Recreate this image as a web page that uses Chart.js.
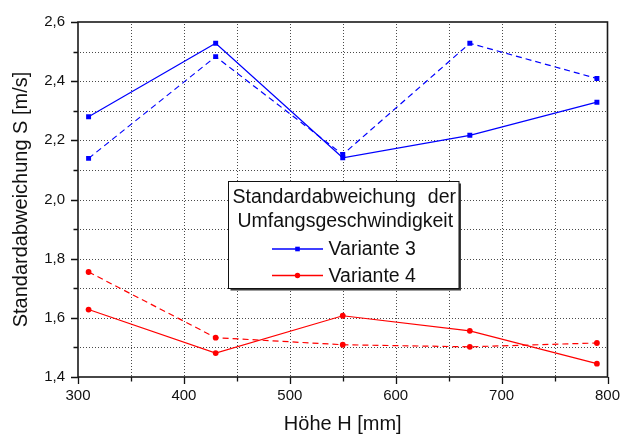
<!DOCTYPE html>
<html>
<head>
<meta charset="utf-8">
<script src="https://cdn.jsdelivr.net/npm/chart.js@4/dist/chart.umd.min.js"></script>
<style>
  html, body { margin: 0; padding: 0; background: #ffffff; }
  #wrap { width: 632px; height: 437px; }
</style>
</head>
<body>
<div id="wrap"><canvas id="c" width="632" height="437"></canvas></div>
<script>
// Messhöhen H [mm]
const hoehen = [310, 430, 550, 670, 790];
// Standardabweichung S [m/s], je Variante zwei Messreihen (durchgezogen / gestrichelt)
const v3Durchgezogen = [2.280, 2.528, 2.141, 2.217, 2.329];
const v3Gestrichelt  = [2.139, 2.483, 2.152, 2.528, 2.409];
const v4Durchgezogen = [1.628, 1.481, 1.607, 1.556, 1.445];
const v4Gestrichelt  = [1.755, 1.533, 1.509, 1.502, 1.515];

// Achsenbeschriftungen
const xTickWerte = [300, 400, 500, 600, 700, 800];
const xTickTexte = ['300', '400', '500', '600', '700', '800'];
const yTickWerte = [1.4, 1.6, 1.8, 2.0, 2.2, 2.4, 2.6];
const yTickTexte = ['1,4', '1,6', '1,8', '2,0', '2,2', '2,4', '2,6'];

const legendeTitel = ['Standardabweichung der', 'Umfangsgeschwindigkeit'];
const legendeNamen = ['Variante 3', 'Variante 4'];

const BLAU = '#0000ff';
const ROT = '#ff0000';
const FONT = '"Liberation Sans", Arial, sans-serif';

function punkte(ys) { return hoehen.map((x, i) => ({ x: x, y: ys[i] })); }

function tickText(werte, texte, v) {
  for (let i = 0; i < werte.length; i++) {
    if (Math.abs(werte[i] - v) < 1e-6) return texte[i];
  }
  return '';
}

// Punktiertes Gitter (alle 50 mm bzw. 0,1 m/s)
const gitterPlugin = {
  id: 'gitter',
  beforeDatasetsDraw(chart) {
    const { ctx, chartArea: a, scales: { x, y } } = chart;
    ctx.save();
    ctx.fillStyle = '#4a4a4a';
    const t = Math.round(a.top), b = Math.round(a.bottom);
    const l = Math.round(a.left), r = Math.round(a.right);
    for (let v = 350; v < 800; v += 50) {
      const px = Math.round(x.getPixelForValue(v));
      for (let py = t + 2; py < b; py += 3) ctx.fillRect(px, py, 1, 1);
    }
    for (let k = 15; k < 26; k++) {
      const py = Math.round(y.getPixelForValue(k / 10));
      for (let px = l + 2; px < r; px += 3) ctx.fillRect(px, py, 1, 1);
    }
    ctx.restore();
  }
};

// Rahmen um das Diagramm und Teilstriche außen
const rahmenPlugin = {
  id: 'rahmen',
  afterDatasetsDraw(chart) {
    const { ctx, chartArea: a, scales: { x, y } } = chart;
    ctx.save();
    ctx.strokeStyle = '#111';
    ctx.lineWidth = 1.3;
    ctx.beginPath();
    for (let v = 300; v <= 800.001; v += 50) {
      const px = Math.round(x.getPixelForValue(v)) + 0.5;
      const len = (Math.round(v) % 100 === 0) ? 7 : 4.5;
      ctx.moveTo(px, a.bottom);
      ctx.lineTo(px, a.bottom + len);
    }
    for (let k = 14; k <= 26; k++) {
      const py = Math.round(y.getPixelForValue(k / 10)) + 0.5;
      const len = (k % 2 === 0) ? 7 : 4.5;
      ctx.moveTo(a.left, py);
      ctx.lineTo(a.left - len, py);
    }
    ctx.stroke();
    ctx.lineWidth = 1.6;
    ctx.strokeStyle = '#1a1a1a';
    ctx.strokeRect(a.left, a.top, a.right - a.left, a.bottom - a.top);
    ctx.restore();
  }
};

// Legende mit zweizeiligem Titel
const legendePlugin = {
  id: 'legende',
  afterDraw(chart) {
    const ctx = chart.ctx;
    const bx = 228.5, by = 181.5, bw = 230.5, bh = 107;
    ctx.save();
    ctx.fillStyle = '#3a3a3a';
    ctx.fillRect(bx + 2, by + 2, bw, bh);
    ctx.fillStyle = '#ffffff';
    ctx.fillRect(bx, by, bw, bh);
    ctx.strokeStyle = '#111';
    ctx.lineWidth = 1;
    ctx.strokeRect(bx, by, bw, bh);

    ctx.font = '19.5px ' + FONT;
    ctx.fillStyle = '#111';
    ctx.textBaseline = 'alphabetic';

    // Zeile 2 zentriert, Zeile 1 im Blocksatz
    const mitte = bx + bw / 2;
    ctx.textAlign = 'center';
    ctx.fillText(legendeTitel[1], mitte + 1.5, 227);
    const worte = legendeTitel[0].split(' ');
    ctx.textAlign = 'left';
    ctx.fillText(worte[0], 232.5, 202.5);
    ctx.textAlign = 'right';
    ctx.fillText(worte.slice(1).join(' '), 456, 202.5);

    const farben = [BLAU, ROT];
    const formen = ['rect', 'circle'];
    const zeilenY = [249, 275.5];
    const textY = [255, 281.5];
    for (let i = 0; i < legendeNamen.length; i++) {
      ctx.strokeStyle = farben[i];
      ctx.lineWidth = 1.3;
      ctx.beginPath();
      ctx.moveTo(272, zeilenY[i]);
      ctx.lineTo(323, zeilenY[i]);
      ctx.stroke();
      ctx.fillStyle = farben[i];
      if (formen[i] === 'rect') {
        ctx.fillRect(297.5 - 2.3, zeilenY[i] - 2.3, 4.6, 4.6);
      } else {
        ctx.beginPath();
        ctx.arc(297.5, zeilenY[i], 2.7, 0, Math.PI * 2);
        ctx.fill();
      }
      ctx.fillStyle = '#111';
      ctx.textAlign = 'left';
      ctx.fillText(legendeNamen[i], 328.5, textY[i]);
    }
    ctx.restore();
  }
};

function reihe(ys, farbe, form, gestrichelt) {
  return {
    data: punkte(ys),
    borderColor: farbe,
    backgroundColor: farbe,
    borderWidth: 1.2,
    borderDash: gestrichelt ? [6, 4] : [],
    pointStyle: form,
    pointRadius: form === 'rect' ? 3.5 : 2.9,
    pointBorderWidth: 0,
    pointBackgroundColor: farbe,
    tension: 0,
    fill: false
  };
}

new Chart(document.getElementById('c'), {
  type: 'line',
  data: {
    datasets: [
      reihe(v3Durchgezogen, BLAU, 'rect', false),
      reihe(v3Gestrichelt, BLAU, 'rect', true),
      reihe(v4Durchgezogen, ROT, 'circle', false),
      reihe(v4Gestrichelt, ROT, 'circle', true)
    ]
  },
  options: {
    responsive: false,
    animation: false,
    devicePixelRatio: 1,
    layout: { padding: { left: 0, top: 17, right: 24.5, bottom: 0 } },
    plugins: { legend: { display: false }, tooltip: { enabled: false } },
    scales: {
      x: {
        type: 'linear',
        min: 300, max: 800,
        afterFit(s) { s.height = 60; },
        ticks: {
          stepSize: 50,
          autoSkip: false,
          maxRotation: 0,
          padding: 10,
          color: '#111',
          font: { family: FONT, size: 15 },
          callback: (v) => tickText(xTickWerte, xTickTexte, v)
        },
        grid: { display: false, drawTicks: false },
        border: { display: false },
        title: {
          display: true,
          text: 'Höhe H [mm]',
          color: '#111',
          font: { family: FONT, size: 20 },
          padding: { top: 0, bottom: 1 }
        }
      },
      y: {
        type: 'linear',
        min: 1.4, max: 2.6,
        afterFit(s) { s.width = 78; },
        ticks: {
          stepSize: 0.1,
          autoSkip: false,
          padding: 13,
          color: '#111',
          font: { family: FONT, size: 15 },
          callback: (v) => tickText(yTickWerte, yTickTexte, v)
        },
        grid: { display: false, drawTicks: false },
        border: { display: false },
        title: {
          display: true,
          text: 'Standardabweichung S [m/s]',
          color: '#111',
          font: { family: FONT, size: 20 },
          padding: { top: 9.5, bottom: 0 }
        }
      }
    }
  },
  plugins: [gitterPlugin, rahmenPlugin, legendePlugin]
});
</script>
</body>
</html>
